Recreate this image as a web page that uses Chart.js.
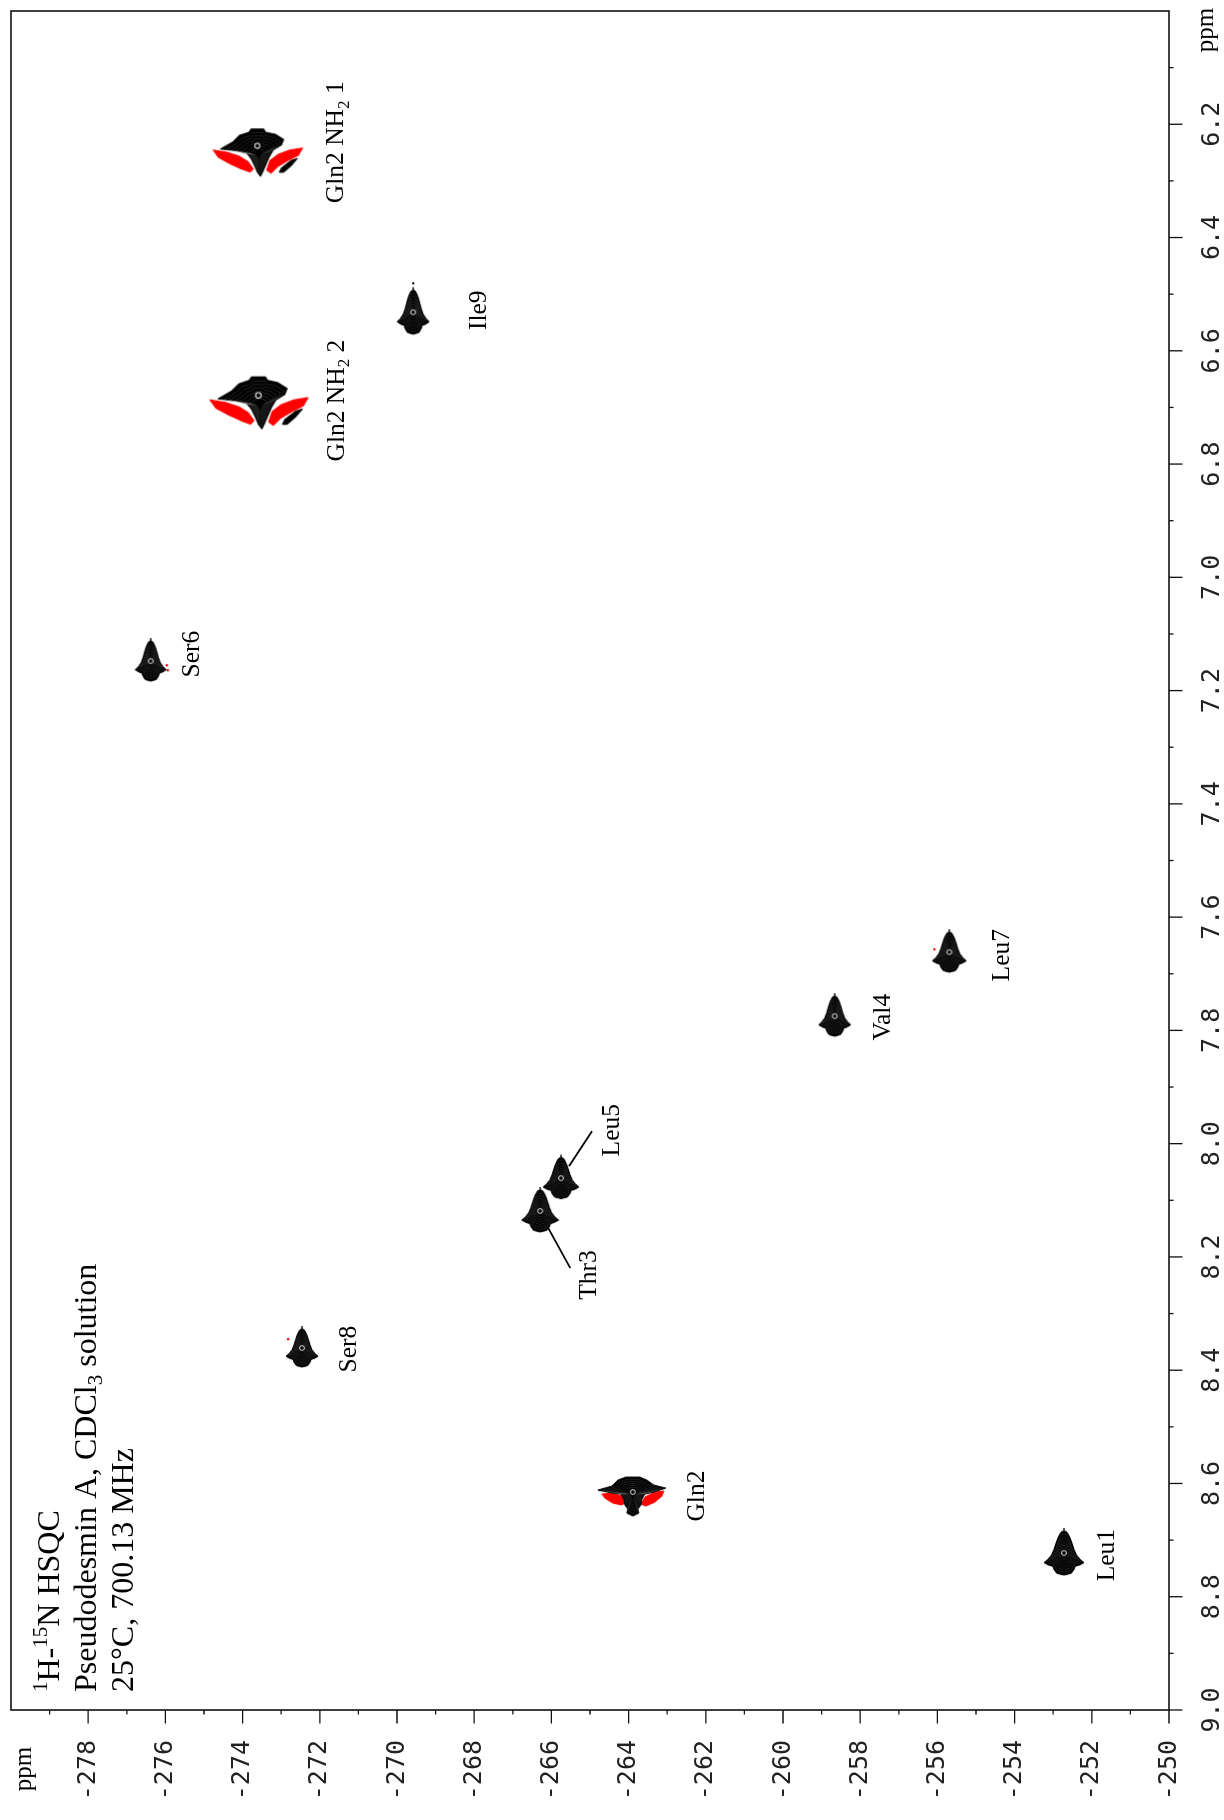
<!DOCTYPE html>
<html>
<head>
<meta charset="utf-8">
<title>1H-15N HSQC – Pseudodesmin A</title>
<script src="https://cdn.jsdelivr.net/npm/chart.js@4.4.1/dist/chart.umd.min.js"></script>
<style>
  html, body { margin: 0; padding: 0; background: #fff; }
  #page { position: relative; width: 1224px; height: 1820px; overflow: hidden; background: #fff; }
  /* the spectrum is laid out landscape (1H horizontal) and turned a quarter turn */
  #spectrum { position: absolute; left: 0; top: 0; width: 1820px; height: 1224px;
              transform-origin: 0 0; transform: translate(0, 1820px) rotate(-90deg); }
  canvas { display: block; }
</style>
</head>
<body>
<div id="page"><div id="spectrum"><canvas id="hsqc" width="1820" height="1224"></canvas></div></div>
<script>
// ---- assigned cross peaks --------------------------------------------------
const residues      = ['Leu1', 'Gln2', 'Thr3', 'Val4', 'Leu5', 'Ser6', 'Leu7', 'Ser8', 'Ile9', 'Gln2 NH₂ 1', 'Gln2 NH₂ 2'];
const protonShift   = [8.723, 8.617, 8.119, 7.775, 8.061, 7.148, 7.662, 8.361, 6.532, 6.253, 6.695];          // 1H, ppm
const nitrogenShift = [-252.72, -263.89, -266.29, -258.66, -265.75, -276.38, -255.69, -272.46, -269.58, -273.59, -273.56]; // 15N, ppm

// ---- axes ------------------------------------------------------------------
const protonRange   = [6.0, 9.0];
const nitrogenRange = [-280, -250];
const protonTicks   = [6.2, 6.4, 6.6, 6.8, 7.0, 7.2, 7.4, 7.6, 7.8, 8.0, 8.2, 8.4, 8.6, 8.8, 9.0];
const nitrogenTicks = [-278, -276, -274, -272, -270, -268, -266, -264, -262, -260, -258, -256, -254, -252, -250];
const axisUnit      = 'ppm';

// ---- experiment description ---------------------------------------------------
const titleLines = ['¹H-¹⁵N HSQC', 'Pseudodesmin A, CDCl₃ solution', '25°C, 700.13 MHz'];

// ---- appearance -------------------------------------------------------------
const SERIF = '"Liberation Serif", "Times New Roman", serif';
const MONO  = '"DejaVu Sans Mono", monospace';
const INK = '#000';
const NEG = '#f00';

// contour footprint per peak (drawn upright, as the page is read); specks = small negative contours
const peakLook = {
  'Leu1':       { shape: 'bell', w: 40, h: 44 },
  'Gln2':       { shape: 'amide' },
  'Thr3':       { shape: 'bell', w: 37, h: 42 },
  'Val4':       { shape: 'bell', w: 32, h: 40 },
  'Leu5':       { shape: 'bell', w: 36, h: 41 },
  'Ser6':       { shape: 'bell', w: 31, h: 40, specks: [[16, 4], [17, 9]] },
  'Leu7':       { shape: 'bell', w: 34, h: 40, specks: [[-15, -3]] },
  'Ser8':       { shape: 'bell', w: 32, h: 38, specks: [[-14, -9]] },
  'Ile9':       { shape: 'bell', w: 32, h: 44, dot: true },
  'Gln2 NH₂ 1': { shape: 'sidechain', k: 1.05 },
  'Gln2 NH₂ 2': { shape: 'sidechain', k: 1.15 }
};
// label offset from its peak (spectrum frame, px): dx along 1H, dy to baseline along 15N
const labelPlacement = {
  'Leu1':       { dx: -2,  dy: 50 },
  'Gln2':       { dx: -3,  dy: 71 },
  'Thr3':       { dx: -64, dy: 56, leader: [-17, 8, -57, 30] },
  'Val4':       { dx: -1,  dy: 55 },
  'Leu5':       { dx: 48,  dy: 58, leader: [12, 8, 47, 31] },
  'Ser6':       { dx: 7,   dy: 48 },
  'Leu7':       { dx: -3,  dy: 60 },
  'Ser8':       { dx: -1,  dy: 54 },
  'Ile9':       { dx: 2,   dy: 73 },
  'Gln2 NH₂ 1': { dx: 12,  dy: 85 },
  'Gln2 NH₂ 2': { dx: 4,   dy: 84 }
};

// ---- contour glyphs ---------------------------------------------------------
const BELL_HALF = [[0,-1],[0.12,-0.98],[0.2,-0.88],[0.3,-0.7],[0.4,-0.45],[0.5,-0.17],[0.62,0.08],
                   [0.8,0.28],[1,0.43],[0.78,0.54],[0.56,0.6],[0.5,0.75],[0.36,0.92],[0,1]];
function bellOutline(w, h) {
  const right = BELL_HALF.map(([u, v]) => [u * w / 2, v * h / 2]);
  const left = BELL_HALF.slice(1, -1).reverse().map(([u, v]) => [-u * w / 2, v * h / 2]);
  return right.concat(left);
}
function tracePoly(ctx, pts, s = 1, cy = 0) {
  ctx.beginPath();
  pts.forEach(([px, py], i) => {
    const X = px * s, Y = cy + (py - cy) * s;
    i ? ctx.lineTo(X, Y) : ctx.moveTo(X, Y);
  });
  ctx.closePath();
}
function contourFill(ctx, pts, color, rings) {
  ctx.fillStyle = color;
  tracePoly(ctx, pts);
  ctx.fill();
  ctx.strokeStyle = color;
  ctx.lineWidth = 1;
  ctx.lineJoin = 'round';
  tracePoly(ctx, pts);
  ctx.stroke();
  if (rings) {
    ctx.strokeStyle = 'rgba(255,255,255,0.2)';
    ctx.lineWidth = 0.6;
    for (let s = 0.86; s > 0.2; s -= 0.12) { tracePoly(ctx, pts, s, 1); ctx.stroke(); }
  }
}
function centreSpot(ctx, x, y) {
  ctx.strokeStyle = 'rgba(255,255,255,0.9)';
  ctx.lineWidth = 1;
  ctx.beginPath(); ctx.arc(x, y, 2.4, 0, Math.PI * 2); ctx.stroke();
}
const AMIDE_BODY = [[-35,-3],[-21,-7],[-15,-13],[-7,-16],[7,-16],[14,-13],[21,-8],[33,-5],[21,-1],[12,1],
                    [9,6],[8,12],[5,16],[6,20],[0,23],[-6,20],[-5,16],[-8,12],[-9,6],[-12,1],[-21,0]];
const AMIDE_NEG_L = [[-31,1],[-20,0],[-11,3],[-7,9],[-11,12],[-20,10],[-28,5]];
const AMIDE_NEG_R = [[31,-2],[22,-1],[12,4],[8,11],[13,13],[22,9],[29,3]];
const SIDE_BODY = [[-36,-5],[-24,-12],[-18,-18],[-9,-21],[-7,-24],[5,-24],[7,-21],[16,-19],[24,-14],[22,-9],
                   [14,-4],[10,3],[7,10],[4,17],[2,21],[-1,17],[-4,10],[-7,4],[-11,-1],[-20,-3]];
const SIDE_NEG_L = [[-43,-4],[-30,-2],[-18,2],[-10,7],[-5,14],[-8,17],[-16,14],[-27,9],[-38,3]];
const SIDE_NEG_R = [[42,-6],[30,-4],[19,0],[11,6],[8,15],[12,18],[18,12],[28,6],[38,1]];
const SIDE_STREAK = [[37,4],[31,6],[22,13],[20,17],[24,17],[31,11]];

function makeGlyph(look) {
  const c = document.createElement('canvas');
  const size = look.shape === 'bell' ? 70 : 120;
  c.width = size; c.height = size;
  const g = c.getContext('2d');
  g.translate(size / 2, size / 2);
  if (look.shape === 'bell') {
    const pts = bellOutline(look.w, look.h);
    contourFill(g, pts, INK, true);
    g.strokeStyle = INK; g.lineWidth = 1.4;
    g.beginPath(); g.moveTo(0, -look.h / 2); g.lineTo(0, -look.h / 2 - 3); g.stroke();
    if (look.dot) { g.fillStyle = INK; g.fillRect(-1, -look.h / 2 - 8, 2, 2); }
    (look.specks || []).forEach(([sx, sy]) => { g.fillStyle = NEG; g.fillRect(sx - 1, sy - 1, 2.2, 2.2); });
    centreSpot(g, 0, 0);
  } else if (look.shape === 'amide') {
    contourFill(g, AMIDE_NEG_L, NEG, false);
    contourFill(g, AMIDE_NEG_R, NEG, false);
    contourFill(g, AMIDE_BODY, INK, true);
    centreSpot(g, 0, -1);
  } else {
    g.scale(look.k, look.k);
    contourFill(g, SIDE_NEG_L, NEG, false);
    contourFill(g, SIDE_NEG_R, NEG, false);
    contourFill(g, SIDE_STREAK, INK, false);
    contourFill(g, SIDE_BODY, INK, true);
    centreSpot(g, -1, -8);
  }
  return c;
}
const glyphs = residues.map(r => makeGlyph(peakLook[r]));

// ---- text with sub/superscript digits -------------------------------------------
const SUB = '₀₁₂₃₄₅₆₇₈₉';
const SUP = '⁰¹²³⁴⁵⁶⁷⁸⁹';
function drawRich(ctx, str, x, y, size, align) {
  const runs = [];
  for (const ch of str) {
    let kind = 'n', t = ch;
    if (SUB.includes(ch)) { kind = 'sub'; t = String(SUB.indexOf(ch)); }
    else if (SUP.includes(ch)) { kind = 'sup'; t = String(SUP.indexOf(ch)); }
    const last = runs[runs.length - 1];
    if (last && last.kind === kind) last.t += t; else runs.push({ kind, t });
  }
  const fontFor = k => (k === 'n' ? size : Math.round(size * 0.66)) + 'px ' + SERIF;
  let total = 0;
  runs.forEach(r => { ctx.font = fontFor(r.kind); r.w = ctx.measureText(r.t).width; total += r.w; });
  let cx = align === 'center' ? x - total / 2 : x;
  ctx.textAlign = 'left';
  ctx.textBaseline = 'alphabetic';
  runs.forEach(r => {
    ctx.font = fontFor(r.kind);
    const off = r.kind === 'sub' ? size * 0.2 : r.kind === 'sup' ? -size * 0.38 : 0;
    ctx.fillText(r.t, cx, y + off);
    cx += r.w;
  });
}

// ---- frame, minor ticks, peak labels, description ---------------------------------
const spectrumDecor = {
  id: 'spectrumDecor',
  afterDraw(chart) {
    const { ctx, chartArea: a, scales: { x, y } } = chart;
    ctx.save();
    ctx.strokeStyle = '#111';
    ctx.lineWidth = 1.6;
    ctx.strokeRect(a.left, a.top, a.right - a.left, a.bottom - a.top);

    ctx.lineWidth = 1.3;
    ctx.beginPath();
    const hHalf = (protonTicks[1] - protonTicks[0]) / 2;
    protonTicks.forEach(v => {
      const p = x.getPixelForValue(v), m = x.getPixelForValue(v - hHalf);
      ctx.moveTo(p, a.bottom); ctx.lineTo(p, a.bottom + 13.5);
      ctx.moveTo(m, a.bottom); ctx.lineTo(m, a.bottom + 4.5);
    });
    const nHalf = (nitrogenTicks[1] - nitrogenTicks[0]) / 2;
    nitrogenTicks.forEach(v => {
      const p = y.getPixelForValue(v), m = y.getPixelForValue(v - nHalf);
      ctx.moveTo(a.left, p); ctx.lineTo(a.left - 13.5, p);
      ctx.moveTo(a.left, m); ctx.lineTo(a.left - 4.5, m);
    });
    ctx.stroke();

    // unit captions at the open ends of both axes
    ctx.fillStyle = INK;
    ctx.font = '25px ' + SERIF;
    ctx.textAlign = 'center';
    ctx.textBaseline = 'alphabetic';
    ctx.fillText(axisUnit, a.left - 59, a.top + 20);
    ctx.fillText(axisUnit, a.right - 19, a.bottom + 44);

    // residue labels
    const meta = chart.getDatasetMeta(0);
    residues.forEach((r, i) => {
      const pt = meta.data[i];
      const lp = labelPlacement[r];
      drawRich(ctx, r, pt.x + lp.dx, pt.y + lp.dy, 25.5, 'center');
      if (lp.leader) {
        const [x1, y1, x2, y2] = lp.leader;
        ctx.strokeStyle = INK; ctx.lineWidth = 1.8;
        ctx.beginPath(); ctx.moveTo(pt.x + x1, pt.y + y1); ctx.lineTo(pt.x + x2, pt.y + y2); ctx.stroke();
      }
    });

    // experiment description
    titleLines.forEach((line, i) => drawRich(ctx, line, a.left + 18, a.top + 48 + i * 37, 32, 'left'));
    ctx.restore();
  }
};

// ---- chart ----------------------------------------------------------------------
const tickFont = { family: MONO, size: 25 };
new Chart(document.getElementById('hsqc'), {
  type: 'scatter',
  data: {
    datasets: [{
      label: 'HSQC cross peaks',
      data: residues.map((r, i) => ({ x: protonShift[i], y: nitrogenShift[i] })),
      pointStyle: glyphs,
      pointRotation: 90,
      pointRadius: 10
    }]
  },
  options: {
    responsive: false,
    animation: false,
    devicePixelRatio: 1,
    events: [],
    layout: { padding: { top: 9, right: 2, left: 0, bottom: 0 } },
    plugins: { legend: { display: false }, tooltip: { enabled: false } },
    scales: {
      x: {
        type: 'linear', position: 'bottom',
        min: protonRange[0], max: protonRange[1], reverse: true,
        afterBuildTicks: s => { s.ticks = protonTicks.map(v => ({ value: v })); },
        afterFit: s => { s.height = 55; s.paddingLeft = s.paddingRight = s.paddingTop = s.paddingBottom = 0; },
        grid: { display: false },
        border: { display: false },
        ticks: { font: tickFont, color: '#222', padding: 20, maxRotation: 0, minRotation: 0, autoSkip: false,
                 callback: v => Number(v).toFixed(1) }
      },
      y: {
        type: 'linear', position: 'left',
        min: nitrogenRange[0], max: nitrogenRange[1], reverse: true,
        afterBuildTicks: s => { s.ticks = nitrogenTicks.map(v => ({ value: v })); },
        afterFit: s => { s.width = 110; s.paddingLeft = s.paddingRight = s.paddingTop = s.paddingBottom = 0; },
        grid: { display: false },
        border: { display: false },
        ticks: { font: tickFont, color: '#222', padding: 22, autoSkip: false,
                 callback: v => String(v) }
      }
    }
  },
  plugins: [spectrumDecor]
});
</script>
</body>
</html>
